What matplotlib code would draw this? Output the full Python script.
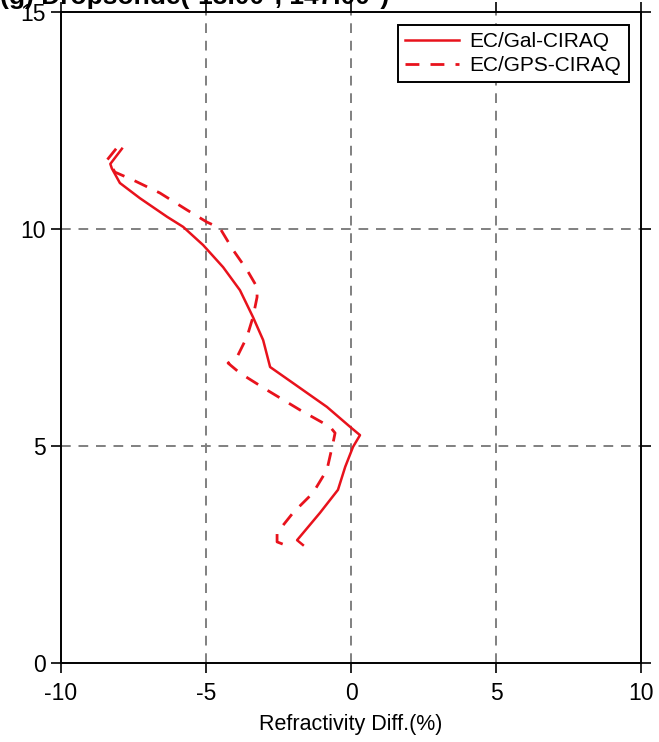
import matplotlib.pyplot as plt

plt.rcParams['font.family'] = ['Liberation Sans', 'DejaVu Sans']
plt.rcParams['axes.unicode_minus'] = False

# height (km) vs refractivity difference (%)
gal_x = [-7.9, -8.3, -8.25, -7.97, -7.28, -6.34, -5.79, -5.1, -4.41, -3.83, -3.38,
         -3.03, -2.79, -2.0, -0.83, -0.03, 0.31, 0.07, -0.2, -0.45, -1.07, -1.86, -1.66]
gal_h = [11.85, 11.5, 11.4, 11.06, 10.71, 10.28, 10.05, 9.63, 9.12, 8.59, 7.97,
         7.44, 6.82, 6.45, 5.9, 5.44, 5.25, 4.98, 4.52, 3.99, 3.46, 2.83, 2.72]

gps_x = [-8.1, -8.4, -8.14, -7.52, -6.59, -5.66, -4.97, -4.52, -4.07, -3.59, -3.24,
         -3.24, -3.38, -3.59, -3.93, -4.24, -3.83, -2.9, -1.76, -0.72, -0.55, -0.62,
         -0.83, -1.31, -2.0, -2.55, -2.55, -2.28]
gps_h = [11.85, 11.6, 11.31, 11.13, 10.83, 10.44, 10.16, 10.02, 9.52, 9.06, 8.66,
         8.43, 7.97, 7.51, 7.05, 6.91, 6.68, 6.29, 5.83, 5.44, 5.3, 5.07,
         4.45, 3.92, 3.46, 3.0, 2.79, 2.72]

fig = plt.figure(figsize=(6.59, 7.42), dpi=100)
ax = fig.add_axes([0.0926, 0.1065, 0.8801, 0.8773])

ax.plot(gal_x, gal_h, color='#e8121c', lw=1.8, label='EC/Gal-CIRAQ')
ax.plot(gps_x, gps_h, color='#e8121c', lw=2.0, ls=(0, (5, 4)), label='EC/GPS-CIRAQ')

for v in [-5, 0, 5]:
    ax.axvline(v, color='#808080', lw=1.4, ls=(0, (5, 4)), zorder=0)
for v in [5, 10]:
    ax.axhline(v, color='#808080', lw=1.4, ls=(0, (5, 4)), zorder=0)

ax.set_xlim(-10, 10)
ax.set_ylim(0, 15)
ax.set_xticks([-10, -5, 0, 5, 10])
ax.set_yticks([0, 5, 10, 15])
ax.tick_params(direction='out', length=7, width=1.2, labelsize=16.5,
               top=True, right=True, colors='black')
ax.tick_params(axis='x', pad=7)
ax.tick_params(axis='y', pad=4)
for s in ax.spines.values():
    s.set_linewidth(1.4)
ax.set_xlabel('Refractivity Diff.(%)', fontsize=15.5, labelpad=6)

leg = ax.legend(loc='upper right', fontsize=15, fancybox=False, framealpha=1,
                edgecolor='black', handlelength=2.6, borderaxespad=0.6,
                labelspacing=0.25, borderpad=0.35, handletextpad=0.5)
leg.get_frame().set_linewidth(1.4)

fig.text(0.0, 0.994, '(g) Dropsonde(-13.00°, 147.00°)', fontsize=19,
         fontweight='bold', ha='left', va='baseline')

fig.savefig('out.png', dpi=100)
